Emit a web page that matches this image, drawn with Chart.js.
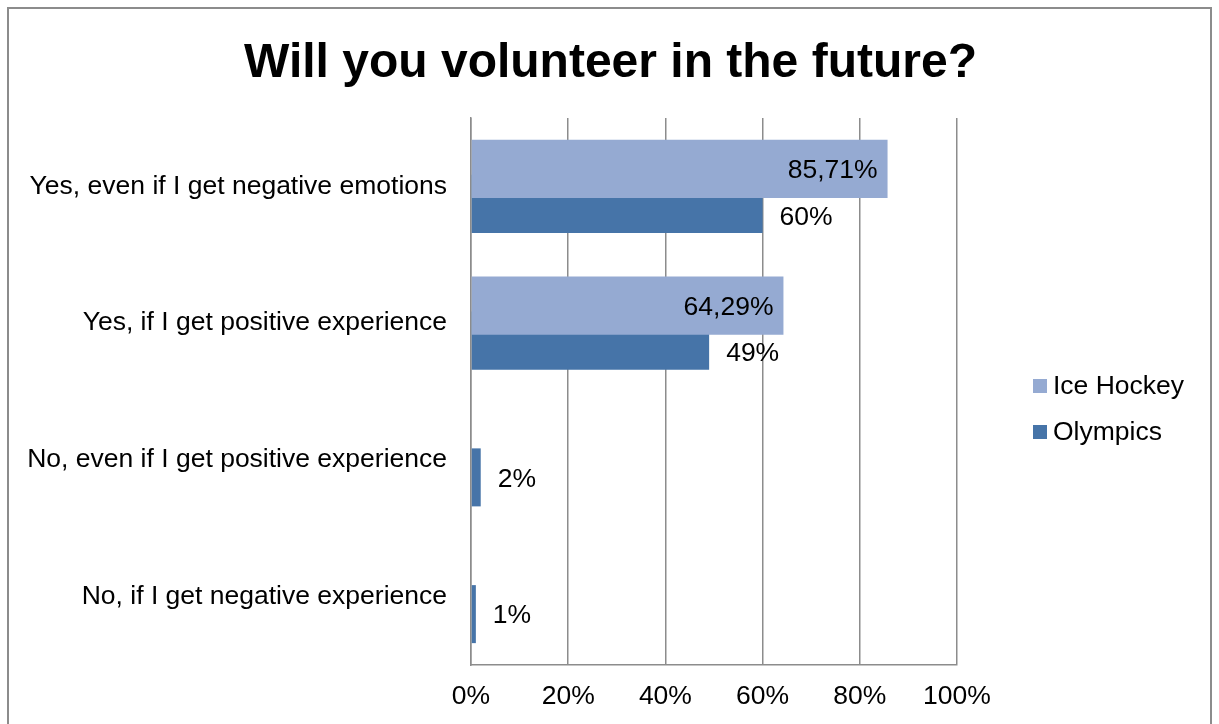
<!DOCTYPE html>
<html lang="en">
  <head>
    <meta charset="UTF-8">
    <title>Will you volunteer in the future?</title>
    <script src="https://cdn.jsdelivr.net/npm/chart.js@4.4.0/dist/chart.umd.min.js"></script>
    <style>
      body { margin: 0; background: #fff; }
      #wrap { position: relative; width: 1219px; height: 724px; }
      #frame {
        position: absolute; left: 7px; top: 7px; width: 1201px; height: 730px;
        border: 2px solid #8c8c8c; pointer-events: none;
      }
    </style>
  </head>
  <body>

<div id="wrap">
  <canvas id="volunteer" width="1219" height="724"></canvas>
  <div id="frame"></div>
</div>

<script>
const chartTitle = 'Will you volunteer in the future?';
const categories = [
  'Yes, even if I get negative emotions',
  'Yes, if I get positive experience',
  'No, even if I get positive experience',
  'No, if I get negative experience'
];
const iceHockey = [85.71, 64.29, null, null];
const olympics = [60, 49, 2, 1];
const seriesNames = ['Ice Hockey', 'Olympics'];
const seriesColors = ['rgb(149, 170, 210)', 'rgb(70, 116, 168)'];

const FONT = '"Liberation Sans", Arial, sans-serif';
const TEXT_SIZE = 26.5;

function pct(v) {
  return (Number.isInteger(v) ? String(v) : v.toFixed(2).replace('.', ',')) + '%';
}

// title centred on the whole canvas, not just the plot box
const pageTitle = {
  id: 'pageTitle',
  afterDraw(chart) {
    const ctx = chart.ctx;
    ctx.save();
    ctx.font = 'bold 48px ' + FONT;
    ctx.fillStyle = '#000';
    ctx.textAlign = 'center';
    ctx.textBaseline = 'alphabetic';
    ctx.fillText(chartTitle, chart.width / 2 + 1, 77);
    ctx.restore();
  }
};

// value labels: hockey inside the bar end, olympics just past its bar
const valueLabels = {
  id: 'valueLabels',
  afterDatasetsDraw(chart) {
    const ctx = chart.ctx;
    const top = chart.getDatasetMeta(0).data;
    const low = chart.getDatasetMeta(1).data;
    ctx.save();
    ctx.font = TEXT_SIZE + 'px ' + FONT;
    ctx.fillStyle = '#000';
    ctx.textBaseline = 'middle';
    top.forEach(function(el, i) {
      if (iceHockey[i] == null) return;
      const p = el.getProps(['x', 'y'], true);
      ctx.textAlign = 'right';
      ctx.fillText(pct(iceHockey[i]), p.x - 10, p.y + 2);
    });
    low.forEach(function(el, i) {
      const p = el.getProps(['x', 'y', 'height'], true);
      let y = p.y;
      if (iceHockey[i] != null) {
        const t = top[i].getProps(['y', 'height'], true);
        y = (t.y + t.height / 2 + p.y + p.height / 2) / 2;
      }
      ctx.textAlign = 'left';
      ctx.fillText(pct(olympics[i]), p.x + 17, y + 2);
    });
    ctx.restore();
  }
};

// legend to the right of the plot
const sideLegend = {
  id: 'sideLegend',
  afterDraw(chart) {
    const ctx = chart.ctx;
    const x = chart.chartArea.right + 76;
    const ys = [386, 432];
    ctx.save();
    ctx.font = TEXT_SIZE + 'px ' + FONT;
    ctx.textBaseline = 'middle';
    ctx.textAlign = 'left';
    chart.data.datasets.forEach(function(ds, i) {
      ctx.fillStyle = ds.backgroundColor;
      ctx.fillRect(x, ys[i] - 7, 14, 14);
      ctx.fillStyle = '#000';
      ctx.fillText(ds.label, x + 20, ys[i] + 1);
    });
    ctx.restore();
  }
};

const chart = new Chart(document.getElementById('volunteer'), {
  type: 'bar',
  data: {
    labels: categories,
    datasets: [
      {
        label: seriesNames[0],
        data: iceHockey,
        backgroundColor: seriesColors[0],
        categoryPercentage: 0.512,
        barPercentage: 1.657
      },
      {
        label: seriesNames[1],
        data: olympics,
        backgroundColor: seriesColors[1],
        categoryPercentage: 0.512,
        barPercentage: 1.657
      }
    ]
  },
  plugins: [pageTitle, valueLabels, sideLegend],
  options: {
    indexAxis: 'y',
    responsive: false,
    animation: false,
    devicePixelRatio: 1,
    layout: { padding: { left: 0, right: 262, top: 118, bottom: 0 } },
    plugins: {
      legend: { display: false },
      tooltip: { enabled: false },
      title: { display: false }
    },
    scales: {
      x: {
        min: 0,
        max: 100,
        ticks: {
          stepSize: 20,
          padding: 16,
          color: '#000',
          font: { family: FONT, size: TEXT_SIZE },
          callback: function(v) { return v + '%'; }
        },
        grid: { color: '#8c8c8c', lineWidth: 1.5, drawTicks: false },
        border: { display: true, color: '#8c8c8c', width: 1.5 },
        afterFit: function(s) { s.height = 59; }
      },
      y: {
        ticks: {
          padding: 24,
          color: '#000',
          font: { family: FONT, size: TEXT_SIZE }
        },
        grid: { display: false, drawTicks: false },
        border: { display: true, color: '#8c8c8c', width: 1.5 },
        afterFit: function(s) { s.width = 471; }
      }
    }
  }
});
</script>

  </body>
</html>
